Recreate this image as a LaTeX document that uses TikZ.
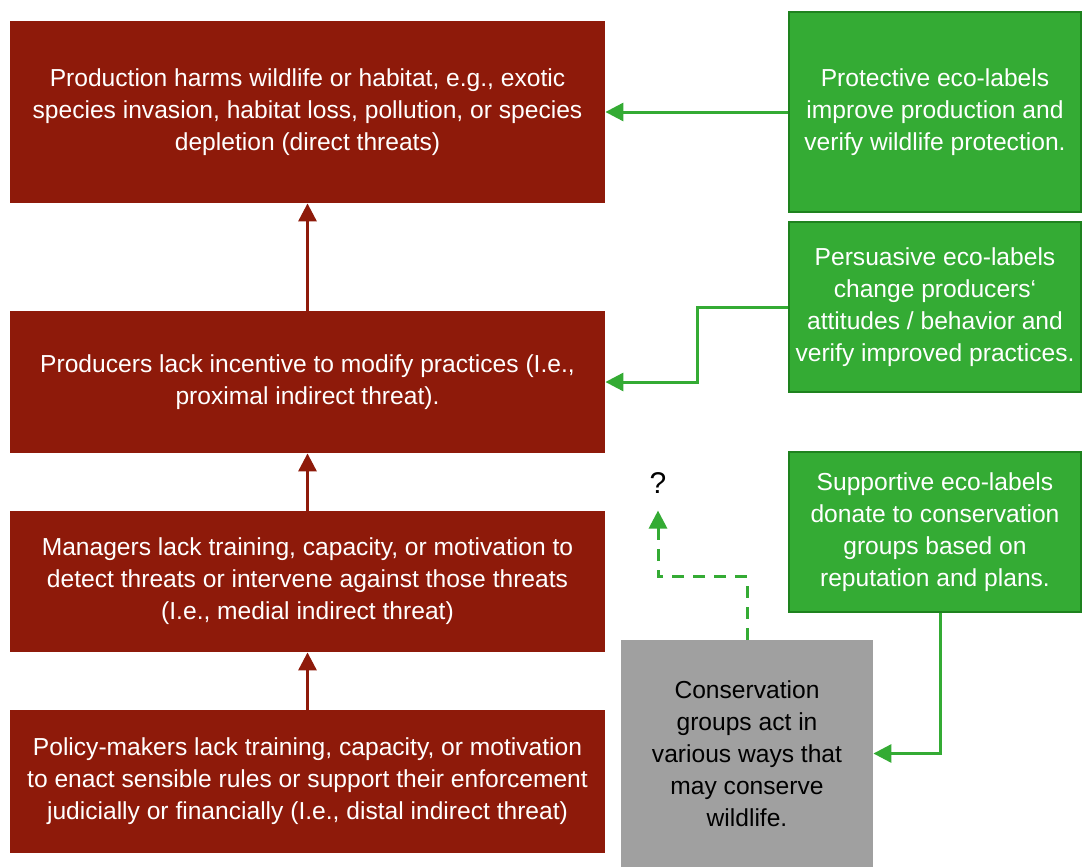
\documentclass[tikz,border=0pt]{standalone}
\usepackage{fontspec}
\setmainfont{Liberation Sans}
\usepackage{xcolor}
\usepackage{tikz}
\usetikzlibrary{arrows.meta,positioning,calc}
\definecolor{threatred}{RGB}{142,26,10}
\definecolor{labelgreen}{RGB}{52,171,52}
\definecolor{labeledge}{RGB}{30,130,30}
\definecolor{groupgray}{RGB}{160,160,160}

\begin{document}
\begin{tikzpicture}[x=0.5pt, y=-0.5pt,
    threat/.style={fill=threatred, text=white, minimum width=297.5pt, align=center, font=\fontsize{12.3}{16}\selectfont, inner sep=0pt},
    ecolabel/.style={fill=labelgreen, draw=labeledge, line width=0.8pt, text=white, minimum width=146pt, align=center, font=\fontsize{12.3}{16}\selectfont, inner sep=0pt},
    redarrow/.style={-{Triangle[length=9pt, width=9pt]}, threatred, line width=1.5pt},
    greenarrow/.style={-{Triangle[length=9pt, width=9pt]}, labelgreen, line width=1.5pt},
    dasharrow/.style={greenarrow, dash pattern=on 6pt off 4.5pt}
]
\useasboundingbox (0,0) rectangle (1082,867);

% threat chain
\node[threat, minimum height=91pt] (direct) at (307.5,112) {Production harms wildlife or habitat, e.g., exotic\\species invasion, habitat loss, pollution, or species\\depletion (direct threats)};
\node[threat, minimum height=71pt] (proximal) at (307.5,382) {Producers lack incentive to modify practices (I.e.,\\proximal indirect threat).};
\node[threat, minimum height=70.5pt] (medial) at (307.5,581.5) {Managers lack training, capacity, or motivation to\\detect threats or intervene against those threats\\(I.e., medial indirect threat)};
\node[threat, minimum height=71.5pt] (distal) at (307.5,781.5) {Policy-makers lack training, capacity, or motivation\\to enact sensible rules or support their enforcement\\judicially or financially (I.e., distal indirect threat)};

% eco-labels
\node[ecolabel, minimum height=100pt] (protective) at (935,112) {Protective eco-labels\\improve production and\\verify wildlife protection.};
\node[ecolabel, minimum height=85pt] (persuasive) at (935,307) {Persuasive eco-labels\\change producers‘\\attitudes / behavior and\\verify improved practices.};
\node[ecolabel, minimum height=80pt] (supportive) at (935,532) {Supportive eco-labels\\donate to conservation\\groups based on\\reputation and plans.};

% conservation groups
\node[fill=groupgray, minimum width=126pt, minimum height=113.5pt, align=center, font=\fontsize{12.3}{16}\selectfont, inner sep=0pt] (groups) at (747,753.5) {Conservation\\groups act in\\various ways that\\may conserve\\wildlife.};
\node[font=\fontsize{15}{16}\selectfont] (unknown) at (658,483) {?};

\draw[redarrow] (proximal) -- (direct);
\draw[redarrow] (medial) -- (proximal);
\draw[redarrow] (distal) -- (medial);

\draw[greenarrow] (protective) -- (direct);
\draw[greenarrow] (persuasive.west) -- ++(-91,0) |- (proximal.east);
\draw[greenarrow] ([xshift=2.5pt]supportive.south) |- (groups.east);
\draw[dasharrow] (groups.north) -- ++(0,-63) -| ([yshift=-5pt]unknown.south);
\end{tikzpicture}
\end{document}
